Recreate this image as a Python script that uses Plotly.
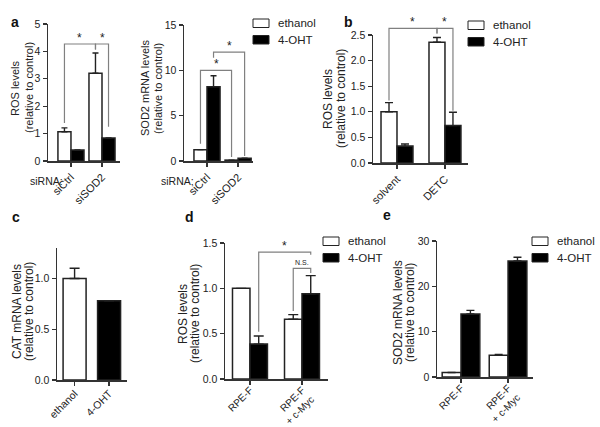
import plotly.graph_objects as go

W, H = 600, 427

def fx(px):
    return px / W

def fy(py):
    return 1 - py / H

# ---------------- data ----------------
series = ["ethanol", "4-OHT"]

a1_groups = ["siCtrl", "siSOD2"]
a1_ethanol = [1.07, 3.2]
a1_ethanol_err = [0.14, 0.74]
a1_oht = [0.40, 0.84]
a1_oht_err = [0.0, 0.0]

a2_groups = ["siCtrl", "siSOD2"]
a2_ethanol = [1.25, 0.1]
a2_ethanol_err = [0.0, 0.0]
a2_oht = [8.2, 0.3]
a2_oht_err = [1.2, 0.0]

b_groups = ["solvent", "DETC"]
b_ethanol = [1.0, 2.36]
b_ethanol_err = [0.18, 0.09]
b_oht = [0.33, 0.73]
b_oht_err = [0.04, 0.26]

c_groups = ["ethanol", "4-OHT"]
c_values = [1.0, 0.78]
c_err = [0.1, 0.0]

d_groups = ["RPE-F", "RPE-F<br>+ c-Myc"]
d_ethanol = [1.0, 0.66]
d_ethanol_err = [0.0, 0.05]
d_oht = [0.385, 0.94]
d_oht_err = [0.09, 0.2]

e_groups = ["RPE-F", "RPE-F<br>+ c-Myc"]
e_ethanol = [1.0, 4.8]
e_ethanol_err = [0.0, 0.2]
e_oht = [13.9, 25.6]
e_oht_err = [0.8, 0.8]

# significance brackets: (group1, series1, group2, series2, top, end1, end2, label)
a1_brackets = [(0, 0, 1, 0, 4.27, 1.39, 4.07, "*"), (1, 0, 1, 1, 4.27, 4.07, 1.25, "*")]
a2_brackets = [(0, 0, 1, 0, 10.0, 1.9, 0.45, "*"), (0, 1, 1, 1, 12.0, 11.4, 0.55, "*")]
b_brackets = [(0, 0, 1, 0, 2.63, 1.22, 2.53, "*"), (1, 0, 1, 1, 2.63, 2.53, 1.02, "*")]
d_brackets = [(0, 1, 1, 1, 1.40, 0.52, 1.37, "*"), (1, 0, 1, 1, 1.22, 0.75, 1.17, "N.S.")]

a_ytick = [0, 1, 2, 3, 4, 5]
a2_ytick = [0, 5, 10, 15]
b_ytick = [0, 0.5, 1.0, 1.5, 2.0, 2.5]
c_ytick = [0, 0.5, 1.0]
d_ytick = [0, 0.5, 1.0, 1.5]
e_ytick = [0, 10, 20, 30]

ros_title = ["ROS levels", "(relative to control)"]
sod2_title = ["SOD2 mRNA levels", "(relative to control)"]
cat_title = ["CAT mRNA levels", "(relative to control)"]

# ---------------- styling / layout ----------------
FONT = "Liberation Sans, Arial, sans-serif"
AX = "#333333"
BRK = "#808080"

panels = [
    dict(groups=a1_groups, eth=a1_ethanol, eth_err=a1_ethanol_err, oht=a1_oht, oht_err=a1_oht_err,
         left=48, right=120, y0=161, y1=24, ymax=5, xr=[-0.74, 1.58], w=0.42, cap=3,
         ytv=a_ytick, ytt=[str(v) for v in a_ytick], brackets=a1_brackets, xfs=11, xso=0,
         title=ros_title, tx=(15, 29), ty=88, tfs=11),
    dict(groups=a2_groups, eth=a2_ethanol, eth_err=a2_ethanol_err, oht=a2_oht, oht_err=a2_oht_err,
         left=184, right=253, y0=161, y1=25, ymax=15, xr=[-0.74, 1.48], w=0.42, cap=3,
         ytv=a2_ytick, ytt=[str(v) for v in a2_ytick], brackets=a2_brackets, xfs=11, xso=0,
         title=sod2_title, tx=(145, 158), ty=88, tfs=11),
    dict(groups=b_groups, eth=b_ethanol, eth_err=b_ethanol_err, oht=b_oht, oht_err=b_oht_err,
         left=373, right=468, y0=163, y1=35, ymax=2.5, xr=[-0.5, 1.48], w=0.333, cap=4,
         ytv=b_ytick, ytt=["%.1f" % v for v in b_ytick], brackets=b_brackets, xfs=11, xso=0,
         title=ros_title, tx=(328, 341), ty=99, tfs=12),
    dict(groups=c_groups, single=c_values, single_err=c_err,
         left=57, right=127, y0=380, y1=248, ymax=1.3, xr=[-0.51, 1.52], w=0.667, cap=5,
         ytv=c_ytick, ytt=["%.1f" % v for v in c_ytick], brackets=[], xfs=10.5, xso=-2,
         title=cat_title, tx=(17, 29), ty=312, tfs=12),
    dict(groups=d_groups, eth=d_ethanol, eth_err=d_ethanol_err, oht=d_oht, oht_err=d_oht_err,
         left=225, right=328, y0=379, y1=243, ymax=1.5, xr=[-0.48, 1.5], w=0.336, cap=5,
         ytv=d_ytick, ytt=["%.1f" % v for v in d_ytick], brackets=d_brackets, xfs=10, xso=-4,
         title=ros_title, tx=(183, 195), ty=314, tfs=12),
    dict(groups=e_groups, eth=e_ethanol, eth_err=e_ethanol_err, oht=e_oht, oht_err=e_oht_err,
         left=437, right=533, y0=377, y1=241, ymax=30, xr=[-0.51, 1.53], w=0.40, cap=4,
         ytv=e_ytick, ytt=[str(v) for v in e_ytick], brackets=[], xfs=10, xso=-4,
         title=sod2_title, tx=(398, 410), ty=313, tfs=12),
]

fig = go.Figure()
layout = dict(
    template="none",
    width=W, height=H, margin=dict(l=0, r=0, t=0, b=0, pad=0, autoexpand=False),
    paper_bgcolor="white", plot_bgcolor="rgba(0,0,0,0)",
    showlegend=False, barmode="overlay",
    font=dict(family=FONT, size=10, color="#222222"),
)
annotations = []
shapes = []

def axname(prefix, k):
    return prefix if k == 1 else f"{prefix}{k}"

n = len(panels)
for i, p in enumerate(panels):
    k = i + 1
    xa, ya = axname("x", k), axname("y", k)
    layout[axname("xaxis", k)] = dict(
        domain=[fx(p["left"]), fx(p["right"])], range=p["xr"], anchor=ya, automargin=False,
        tickvals=list(range(len(p["groups"]))), ticktext=p["groups"], tickangle=-45,
        ticks="outside", ticklen=4, tickwidth=1.3, tickcolor=AX, ticklabelstandoff=p["xso"],
        showline=True, linecolor=AX, linewidth=1.5, showgrid=False, zeroline=False,
        tickfont=dict(size=p["xfs"], family=FONT, color="#222"),
    )
    layout[axname("yaxis", k)] = dict(
        domain=[fy(p["y0"]), fy(p["y1"])], range=[0, p["ymax"]], anchor=xa, automargin=False,
        tickvals=p["ytv"], ticktext=p["ytt"],
        ticks="outside", ticklen=4, tickwidth=1.3, tickcolor=AX,
        showline=True, linecolor=AX, linewidth=1.5, showgrid=False, zeroline=False,
        tickfont=dict(size=10.5, family=FONT, color="#222"),
    )
    w = p["w"]
    xs = list(range(len(p["groups"])))
    if "single" in p:
        fig.add_trace(go.Bar(
            x=xs, y=p["single"], width=w, offset=-w / 2, xaxis=xa, yaxis=ya,
            marker=dict(color=["white", "black"], line=dict(color="#222", width=1.5)),
            error_y=dict(type="data", array=p["single_err"], arrayminus=[0] * len(xs),
                         symmetric=False, color="#222", thickness=1.4, width=p["cap"]),
            hoverinfo="skip"))
    else:
        for s, (vals, errs, col) in enumerate([(p["eth"], p["eth_err"], "white"),
                                               (p["oht"], p["oht_err"], "black")]):
            fig.add_trace(go.Bar(
                x=xs, y=vals, width=w, offset=-w if s == 0 else 0, xaxis=xa, yaxis=ya,
                name=series[s],
                marker=dict(color=col, line=dict(color="#222", width=1.5)),
                error_y=dict(type="data", array=errs, arrayminus=[0] * len(xs),
                             symmetric=False, color="#222", thickness=1.4, width=p["cap"]),
                hoverinfo="skip"))
    # hidden overlay subplot for brackets (same scale, extended upward)
    if p["brackets"]:
        kb = k + n
        xb, yb = axname("x", kb), axname("y", kb)
        top_px = 0
        scale = p["ymax"] / (p["y0"] - p["y1"])
        layout[axname("xaxis", kb)] = dict(domain=[fx(p["left"]), fx(p["right"])], range=p["xr"],
                                           anchor=yb, visible=False)
        layout[axname("yaxis", kb)] = dict(domain=[fy(p["y0"]), fy(top_px)],
                                           range=[0, scale * (p["y0"] - top_px)],
                                           anchor=xb, visible=False)
        for (g1, s1, g2, s2, top, e1, e2, lab) in p["brackets"]:
            x1 = g1 + (s1 - 0.5) * w
            x2 = g2 + (s2 - 0.5) * w
            fig.add_trace(go.Scatter(
                x=[x1, x1, x2, x2], y=[e1, top, top, e2], mode="lines",
                line=dict(color=BRK, width=1.2), xaxis=xb, yaxis=yb, hoverinfo="skip"))
            small = lab != "*"
            annotations.append(dict(
                x=(x1 + x2) / 2, y=top, xref=xb, yref=yb, text=lab, showarrow=False,
                yanchor="bottom", yshift=(0 if small else -3),
                font=dict(size=7 if small else 12, family=FONT, color="#222")))
    # axis title (two lines, placed separately)
    for line, lx in zip(p["title"], p["tx"]):
        annotations.append(dict(
            x=fx(lx), y=fy(p["ty"]), xref="paper", yref="paper", text=line,
            textangle=-90, showarrow=False, xanchor="center", yanchor="middle",
            font=dict(size=p["tfs"], family=FONT, color="#222")))

# siRNA labels
for sx in (28, 159):
    annotations.append(dict(x=fx(sx), y=fy(181), xref="paper", yref="paper", text="siRNA:",
                            showarrow=False, font=dict(size=10.5, family=FONT, color="#222")))

# panel letters
for lab, lx, ly in [("a", 9, 12), ("b", 348, 12), ("c", 10, 217), ("d", 183, 217), ("e", 387, 215)]:
    annotations.append(dict(x=fx(lx), y=fy(ly), xref="paper", yref="paper", text="<b>%s</b>" % lab,
                            showarrow=False, font=dict(size=14, family=FONT, color="#111")))

# legends
for bx, by in [(253, 19), (468, 21), (323, 237), (532, 237)]:
    for s, col in enumerate(["white", "black"]):
        y0 = by + s * 16.5
        shapes.append(dict(type="rect", xref="paper", yref="paper",
                           x0=fx(bx), x1=fx(bx + 16), y0=fy(y0), y1=fy(y0 + 8.5),
                           fillcolor=col, line=dict(color="#222", width=1)))
        annotations.append(dict(x=fx(bx + 23), y=fy(y0 + 4.5), xref="paper", yref="paper",
                                text=series[s], showarrow=False, xanchor="left", yanchor="middle",
                                font=dict(size=11.5, family=FONT, color="#222")))

layout["annotations"] = annotations
layout["shapes"] = shapes
fig.update_layout(**layout)
fig.write_html(
    "out.html",
    config={"staticPlot": True, "displayModeBar": False},
    post_script="document.body.style.margin='0';document.body.style.overflow='hidden';",
)
